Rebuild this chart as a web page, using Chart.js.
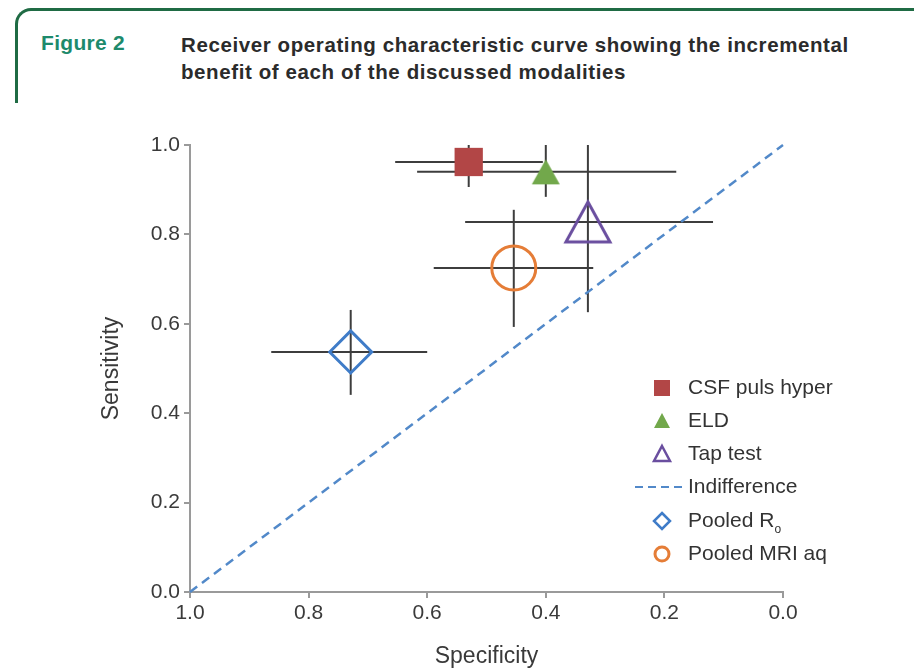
<!DOCTYPE html>
<html>
<head>
<meta charset="utf-8">
<script src="https://cdn.jsdelivr.net/npm/chart.js@4.4.1/dist/chart.umd.min.js"></script>
<style>
  html, body { margin: 0; padding: 0; background: #fff; }
  body { width: 914px; height: 670px; position: relative; overflow: hidden; font-family: "Liberation Sans", Arial, sans-serif; }
  #frame {
    position: absolute; left: 15px; top: 8px; width: 960px; height: 92px;
    border-top: 3px solid #1f6b44; border-left: 3px solid #1f6b44;
    border-top-left-radius: 16px;
  }
  #figLabel { position: absolute; left: 41px; top: 31px; font-size: 21px; font-weight: bold; color: #1d8a6c; letter-spacing: 0.3px; }
  #figTitle { position: absolute; left: 181px; top: 31px; font-size: 20.5px; font-weight: bold; color: #2b2b2b; line-height: 27px; letter-spacing: 0.6px; }
  #chartBox { position: absolute; left: 0; top: 0; width: 914px; height: 670px; }
</style>
</head>
<body>
<div id="frame"></div>
<div id="figLabel">Figure 2</div>
<div id="figTitle">Receiver operating characteristic curve showing the incremental<br>benefit of each of the discussed modalities</div>
<div id="chartBox"><canvas id="rocChart" width="914" height="670"></canvas></div>
<script>
// Data
const seriesNames = ['CSF puls hyper', 'ELD', 'Tap test', 'Pooled Ro', 'Pooled MRI aq'];
const specificity = [0.530, 0.400, 0.329, 0.729, 0.454];
const sensitivity = [0.962, 0.940, 0.828, 0.537, 0.725];
const specLow = [0.405, 0.180, 0.118, 0.600, 0.320];
const specHigh = [0.654, 0.617, 0.536, 0.863, 0.589];
const sensLow = [0.906, 0.884, 0.626, 0.441, 0.593];
const sensHigh = [1.0, 1.0, 1.0, 0.631, 0.855];
const indifferenceSpec = [1.0, 0.0];
const indifferenceSens = [0.0, 1.0];
const tickValues = [0, 0.2, 0.4, 0.6, 0.8, 1.0];

const colors = ['#b24646', '#72a84b', '#6a4e9f', '#3f7cc8', '#e57d37'];
const dashColor = '#5289c9';
const barColor = '#3d3d3d';

// triangles centred on their bounding box (like the original figure)
function makeTriangle(w, h, fill, stroke, lw) {
  const c = document.createElement('canvas');
  c.width = w + lw * 2 + 2;
  c.height = h + lw * 2 + 2;
  const g = c.getContext('2d');
  const cx = c.width / 2, cy = c.height / 2;
  g.beginPath();
  g.moveTo(cx, cy - h / 2);
  g.lineTo(cx + w / 2, cy + h / 2);
  g.lineTo(cx - w / 2, cy + h / 2);
  g.closePath();
  if (fill) { g.fillStyle = fill; g.fill(); }
  if (stroke) { g.strokeStyle = stroke; g.lineWidth = lw; g.lineJoin = 'miter'; g.stroke(); }
  return c;
}
const eldTriangle = makeTriangle(28, 25, colors[1], null, 0);
const tapTriangle = makeTriangle(44, 40, null, colors[2], 3);

const markerDatasets = [
  { pointStyle: 'rect', radius: 20, fill: colors[0], stroke: colors[0], bw: 0 },
  { pointStyle: eldTriangle, radius: 14, fill: colors[1], stroke: colors[1], bw: 0 },
  { pointStyle: tapTriangle, radius: 24, fill: 'rgba(0,0,0,0)', stroke: colors[2], bw: 0 },
  { pointStyle: 'rectRot', radius: 21, fill: 'rgba(0,0,0,0)', stroke: colors[3], bw: 3 },
  { pointStyle: 'circle', radius: 22, fill: 'rgba(0,0,0,0)', stroke: colors[4], bw: 3 }
].map((m, i) => ({
  label: seriesNames[i],
  data: [{ x: specificity[i], y: sensitivity[i] }],
  pointStyle: m.pointStyle,
  pointRadius: m.radius,
  pointBackgroundColor: m.fill,
  pointBorderColor: m.stroke,
  pointBorderWidth: m.bw,
  showLine: false,
  clip: false,
  order: 1
}));

// error bars: one horizontal and one vertical segment per series
const errorDatasets = [];
seriesNames.forEach((name, i) => {
  errorDatasets.push({
    label: name + ' spec CI',
    data: [{ x: specHigh[i], y: sensitivity[i] }, { x: specLow[i], y: sensitivity[i] }],
    showLine: true, borderColor: barColor, borderWidth: 2, pointRadius: 0, clip: false, order: 3
  });
  errorDatasets.push({
    label: name + ' sens CI',
    data: [{ x: specificity[i], y: sensLow[i] }, { x: specificity[i], y: sensHigh[i] }],
    showLine: true, borderColor: barColor, borderWidth: 2, pointRadius: 0, clip: false, order: 3
  });
});

const indifferenceDataset = {
  label: 'Indifference',
  data: indifferenceSpec.map((s, i) => ({ x: s, y: indifferenceSens[i] })),
  showLine: true, borderColor: dashColor, borderWidth: 2.5, borderDash: [9, 6],
  pointRadius: 0, clip: false, order: 2
};

// legend drawn inside the plot, bottom right
const legendPlugin = {
  id: 'innerLegend',
  afterDraw(chart) {
    const ctx = chart.ctx;
    const area = chart.chartArea;
    const sx = area.right - 121;
    const tx = area.right - 95;
    const rows = [
      { y: area.bottom - 204, text: 'CSF puls hyper', kind: 'square', c: colors[0] },
      { y: area.bottom - 171, text: 'ELD', kind: 'tri', c: colors[1] },
      { y: area.bottom - 138, text: 'Tap test', kind: 'triOpen', c: colors[2] },
      { y: area.bottom - 105, text: 'Indifference', kind: 'dash', c: dashColor },
      { y: area.bottom - 71, text: 'Pooled R', sub: 'o', kind: 'diamond', c: colors[3] },
      { y: area.bottom - 38, text: 'Pooled MRI aq', kind: 'circle', c: colors[4] }
    ];
    ctx.save();
    rows.forEach(r => {
      ctx.beginPath();
      if (r.kind === 'square') {
        ctx.fillStyle = r.c; ctx.fillRect(sx - 8, r.y - 8, 16, 16);
      } else if (r.kind === 'tri' || r.kind === 'triOpen') {
        ctx.moveTo(sx, r.y - 8); ctx.lineTo(sx + 8, r.y + 7); ctx.lineTo(sx - 8, r.y + 7); ctx.closePath();
        if (r.kind === 'tri') { ctx.fillStyle = r.c; ctx.fill(); }
        else { ctx.strokeStyle = r.c; ctx.lineWidth = 2.5; ctx.stroke(); }
      } else if (r.kind === 'dash') {
        ctx.strokeStyle = r.c; ctx.lineWidth = 2; ctx.setLineDash([8, 5]);
        ctx.moveTo(sx - 27, r.y); ctx.lineTo(sx + 21, r.y); ctx.stroke(); ctx.setLineDash([]);
      } else if (r.kind === 'diamond') {
        ctx.moveTo(sx, r.y - 8); ctx.lineTo(sx + 8, r.y); ctx.lineTo(sx, r.y + 8); ctx.lineTo(sx - 8, r.y); ctx.closePath();
        ctx.strokeStyle = r.c; ctx.lineWidth = 2.5; ctx.stroke();
      } else if (r.kind === 'circle') {
        ctx.arc(sx, r.y, 7, 0, Math.PI * 2); ctx.strokeStyle = r.c; ctx.lineWidth = 3; ctx.stroke();
      }
      ctx.fillStyle = '#333';
      ctx.font = '21px "Liberation Sans", Arial, sans-serif';
      ctx.textBaseline = 'middle';
      ctx.textAlign = 'left';
      ctx.fillText(r.text, tx, r.y);
      if (r.sub) {
        const w = ctx.measureText(r.text).width;
        ctx.font = '12px "Liberation Sans", Arial, sans-serif';
        ctx.fillText(r.sub, tx + w, r.y + 9);
      }
    });
    ctx.restore();
  }
};

const axisGrey = '#9a9a9a';
const tickFont = { family: '"Liberation Sans", Arial, sans-serif', size: 21 };
const titleFont = { family: '"Liberation Sans", Arial, sans-serif', size: 23 };

const ctxRoc = document.getElementById('rocChart').getContext('2d');
const rocChart = new Chart(ctxRoc, {
  type: 'scatter',
  data: { datasets: [...markerDatasets, indifferenceDataset, ...errorDatasets] },
  options: {
    responsive: false,
    animation: false,
    layout: { padding: { left: 95, top: 145, right: 131, bottom: 0 } },
    plugins: { legend: { display: false }, tooltip: { enabled: false } },
    scales: {
      x: {
        type: 'linear', min: 0, max: 1, reverse: true,
        afterBuildTicks: s => { s.ticks = tickValues.map(v => ({ value: v })); },
        afterFit: s => { s.height = 78; },
        ticks: { callback: v => v.toFixed(1), color: '#3a3a3a', font: tickFont, padding: 3, maxRotation: 0 },
        grid: { drawOnChartArea: false, drawTicks: true, tickLength: 6, color: axisGrey, lineWidth: 2 },
        border: { display: true, color: axisGrey, width: 2 },
        title: { display: true, text: 'Specificity', color: '#3a3a3a', font: titleFont, padding: { top: 0, bottom: 0 } }
      },
      y: {
        type: 'linear', min: 0, max: 1,
        afterBuildTicks: s => { s.ticks = tickValues.map(v => ({ value: v })); },
        afterFit: s => { s.width = 95; },
        ticks: { callback: v => v.toFixed(1), color: '#3a3a3a', font: tickFont, padding: 4 },
        grid: { drawOnChartArea: false, drawTicks: true, tickLength: 6, color: axisGrey, lineWidth: 2 },
        border: { display: true, color: axisGrey, width: 2 },
        title: { display: true, text: 'Sensitivity', color: '#3a3a3a', font: titleFont, padding: { top: 3, bottom: 0 } }
      }
    }
  },
  plugins: [legendPlugin]
});
</script>
</body>
</html>
